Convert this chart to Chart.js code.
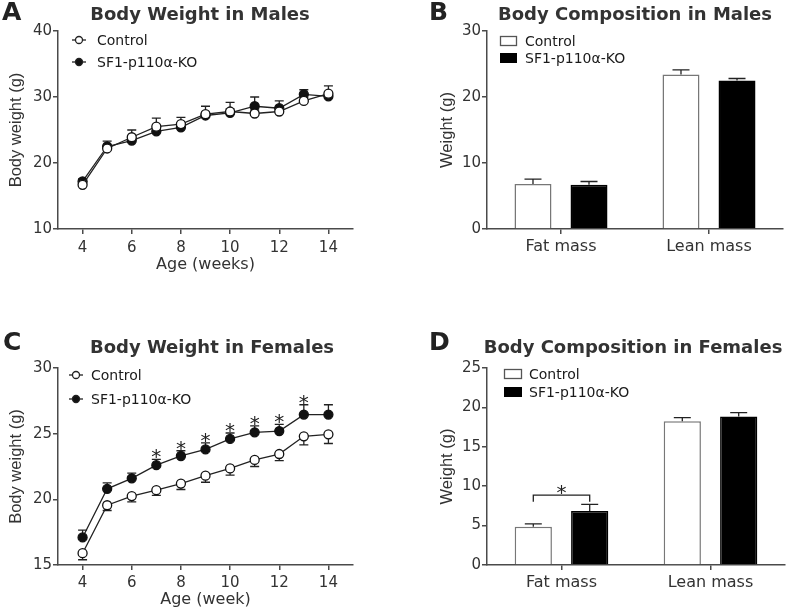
<!DOCTYPE html>
<html>
<head>
<meta charset="utf-8">
<script src="https://cdn.jsdelivr.net/npm/chart.js@4.4.1/dist/chart.umd.min.js"></script>
<style>
  body { margin: 0; background: #fff; }
  #wrap { position: relative; width: 787px; height: 612px; overflow: hidden; }
  canvas { position: absolute; }
</style>
</head>
<body>
<div id="wrap">
  <canvas id="panelA" width="390" height="300" style="left:0;top:0"></canvas>
  <canvas id="panelB" width="397" height="300" style="left:390px;top:0"></canvas>
  <canvas id="panelC" width="390" height="302" style="left:0;top:310px"></canvas>
  <canvas id="panelD" width="397" height="302" style="left:390px;top:310px"></canvas>
</div>
<script>
// --- data ---
const weeks = [4, 5, 6, 7, 8, 9, 10, 11, 12, 13, 14];
const weekTicks = [4, 6, 8, 10, 12, 14];

const maleCtrl    = [16.7, 22.2, 23.9, 25.5, 25.9, 27.4, 27.8, 27.5, 27.8, 29.4, 30.5];
const maleCtrlErr = [0.4, 0.4, 1.1, 1.3, 1.0, 1.2, 1.4, 0.5, 0.5, 0.5, 1.2];
const maleKO      = [17.2, 22.5, 23.4, 24.8, 25.4, 27.2, 27.6, 28.6, 28.3, 30.4, 30.1];
const maleKOErr   = [0.4, 0.8, 0.5, 0.5, 0.5, 0.5, 0.6, 1.4, 1.1, 0.7, 0.5];
const maleWeightTicks = [10, 20, 30, 40];

const femaleCtrl    = [15.9, 19.55, 20.25, 20.7, 21.2, 21.8, 22.35, 23.0, 23.45, 24.8, 24.95];
const femaleCtrlErr = [0.5, 0.4, 0.45, 0.4, 0.45, 0.5, 0.5, 0.5, 0.5, 0.65, 0.7];
const femaleKO      = [17.1, 20.8, 21.6, 22.6, 23.3, 23.8, 24.6, 25.1, 25.2, 26.45, 26.45];
const femaleKOErr   = [0.55, 0.45, 0.4, 0.45, 0.4, 0.5, 0.45, 0.5, 0.5, 0.75, 0.75];
const femaleStars   = ['', '', '', '*', '*', '*', '*', '*', '*', '*', ''];
const femaleWeightTicks = [15, 20, 25, 30];

const compCategories = ['Fat mass', 'Lean mass'];
const maleCompCtrl    = [6.8, 23.4];
const maleCompCtrlErr = [0.75, 0.7];
const maleCompKO      = [6.7, 22.5];
const maleCompKOErr   = [0.5, 0.3];
const maleCompTicks   = [0, 10, 20, 30];

const femaleCompCtrl    = [4.86, 18.24];
const femaleCompCtrlErr = [0.35, 0.46];
const femaleCompKO      = [6.84, 18.83];
const femaleCompKOErr   = [0.85, 0.5];
const femaleCompTicks   = [0, 5, 10, 15, 20, 25];
const femaleFatBracket  = { category: 0, top: 8.88, foot: 8.03, mark: '*' };

const seriesNames = ['Control', 'SF1-p110\u03b1-KO'];

// --- styling ---
const family = "'DejaVu Sans', sans-serif";
const vFamily = "'Liberation Sans', Arial, sans-serif";
const axisColor = '#4a4a4a';
const textColor = '#333';

function fixedTicks(values) {
  return scale => { scale.ticks = values.map(v => ({ value: v })); };
}

function axisBase() {
  return {
    border: { display: true, color: axisColor, width: 1.5 },
    grid: { drawOnChartArea: false, tickLength: 5, color: axisColor, lineWidth: 1.5 }
  };
}

function yAxis(min, max, tickValues, title, width, titlePad) {
  return {
    ...axisBase(),
    min: min, max: max,
    afterBuildTicks: fixedTicks(tickValues),
    afterFit: s => { s.width = width; },
    ticks: { color: textColor, font: { family: family, size: 15 }, padding: 1 },
    title: { display: true, text: title, color: textColor,
             font: { family: vFamily, size: 16.5 }, padding: { top: titlePad, bottom: 0 } }
  };
}

function weekAxis(title, height, tickPad, titlePad) {
  return {
    ...axisBase(),
    type: 'linear', min: 3, max: 15,
    afterBuildTicks: fixedTicks(weekTicks),
    afterFit: s => { s.height = height; },
    ticks: { color: textColor, font: { family: family, size: 15 }, padding: tickPad, maxRotation: 0 },
    title: { display: true, text: title, color: textColor,
             font: { family: family, size: 16 }, padding: { top: 0, bottom: titlePad } }
  };
}

function categoryAxis(height, tickPad) {
  const base = axisBase();
  base.grid.offset = false;
  return {
    ...base,
    type: 'category', offset: true,
    afterFit: s => { s.height = height; },
    ticks: { color: textColor, font: { family: family, size: 16 }, padding: tickPad, maxRotation: 0 }
  };
}

function lineSet(label, values, errs, dir, filled, stars) {
  return {
    label: label,
    data: weeks.map((w, i) => ({ x: w, y: values[i] })),
    errors: errs, errDir: dir, stars: stars, capWidth: 9,
    borderColor: '#222', borderWidth: 1.3,
    pointRadius: 4.5, pointBorderWidth: 1.3, pointBorderColor: '#111',
    pointBackgroundColor: filled ? '#111' : '#fff',
    tension: 0, fill: false
  };
}

function barSet(label, values, errs, filled) {
  return {
    label: label, data: values,
    errors: errs, errDir: 'up', capWidth: 17,
    backgroundColor: filled ? '#000' : '#fff',
    borderColor: filled ? '#000' : '#777', borderWidth: 1.5,
    categoryPercentage: 0.757, barPercentage: 0.66
  };
}

// error bars, significance stars and bracket drawn through the chart scales
function drawErrors(chart) {
  const ctx = chart.ctx, y = chart.scales.y;
  chart.data.datasets.forEach((ds, i) => {
    if (!ds.errors) return;
    const meta = chart.getDatasetMeta(i);
    ctx.save();
    ctx.strokeStyle = '#222';
    ctx.lineWidth = 1.3;
    meta.data.forEach((el, j) => {
      const v = typeof ds.data[j] === 'object' ? ds.data[j].y : ds.data[j];
      const end = ds.errDir === 'down' ? v - ds.errors[j] : v + ds.errors[j];
      const y0 = y.getPixelForValue(v), y1 = y.getPixelForValue(end);
      const half = ds.capWidth / 2;
      ctx.beginPath();
      ctx.moveTo(el.x, y0); ctx.lineTo(el.x, y1);
      ctx.moveTo(el.x - half, y1); ctx.lineTo(el.x + half, y1);
      ctx.stroke();
    });
    ctx.restore();
  });
}

function drawMarks(chart, opts) {
  const ctx = chart.ctx, y = chart.scales.y;
  ctx.save();
  ctx.fillStyle = '#222';
  ctx.font = '20px ' + family;
  ctx.textAlign = 'center';
  ctx.textBaseline = 'alphabetic';
  chart.data.datasets.forEach((ds, i) => {
    if (!ds.stars) return;
    const meta = chart.getDatasetMeta(i);
    meta.data.forEach((el, j) => {
      if (!ds.stars[j]) return;
      const top = y.getPixelForValue(ds.data[j].y + ds.errors[j]);
      ctx.fillText(ds.stars[j], el.x, top + 4);
    });
  });
  const br = opts.bracket;
  if (br) {
    const x0 = chart.getDatasetMeta(0).data[br.category].x;
    const x1 = chart.getDatasetMeta(1).data[br.category].x;
    const yt = y.getPixelForValue(br.top), yf = y.getPixelForValue(br.foot);
    ctx.strokeStyle = '#222';
    ctx.lineWidth = 1.3;
    ctx.beginPath();
    ctx.moveTo(x0, yf); ctx.lineTo(x0, yt); ctx.lineTo(x1, yt); ctx.lineTo(x1, yf);
    ctx.stroke();
    ctx.fillText(br.mark, (x0 + x1) / 2, yt + 4);
  }
  ctx.restore();
}

const errorBars = {
  id: 'errorBars',
  beforeDatasetsDraw(chart) {
    if (chart.config.type === 'line') drawErrors(chart);
  },
  afterDatasetsDraw(chart, args, opts) {
    if (chart.config.type === 'bar') drawErrors(chart);
    drawMarks(chart, opts);
  }
};

// panel letter, bold title and in-plot legend
const panelText = {
  id: 'panelText',
  afterDraw(chart, args, o) {
    const ctx = chart.ctx;
    ctx.save();
    ctx.textBaseline = 'middle';
    ctx.fillStyle = '#222';
    ctx.font = 'bold 25px ' + family;
    ctx.textAlign = 'left';
    ctx.fillText(o.letter, o.letterX, o.letterY);
    ctx.fillStyle = '#333';
    ctx.font = 'bold 18px ' + family;
    ctx.textAlign = 'center';
    ctx.fillText(o.title, o.titleX, o.titleY);

    ctx.textAlign = 'left';
    ctx.font = '14px ' + family;
    chart.data.datasets.forEach((ds, i) => {
      const ly = o.legendY[i];
      const filled = i === 1;
      ctx.strokeStyle = '#222';
      ctx.lineWidth = 1.3;
      if (o.legendType === 'line') {
        ctx.beginPath();
        ctx.moveTo(o.legendX - 7, ly); ctx.lineTo(o.legendX + 7, ly);
        ctx.stroke();
        ctx.beginPath();
        ctx.arc(o.legendX, ly, 3.5, 0, Math.PI * 2);
        ctx.fillStyle = filled ? '#111' : '#fff';
        ctx.fill();
        ctx.stroke();
      } else {
        ctx.fillStyle = filled ? '#000' : '#fff';
        ctx.fillRect(o.legendX, ly - 5, o.boxW, 10);
        if (!filled) {
          ctx.strokeStyle = '#555';
          ctx.strokeRect(o.legendX + 0.5, ly - 4.5, o.boxW - 1, 9);
        }
      }
      ctx.fillStyle = '#1a1a1a';
      ctx.fillText(ds.label, o.textX, ly + 1);
    });
    ctx.restore();
  }
};

function baseOptions(padding, scales, text, bracket) {
  return {
    responsive: false,
    animation: false,
    layout: { padding: padding },
    scales: scales,
    plugins: {
      legend: { display: false },
      tooltip: { enabled: false },
      panelText: text,
      errorBars: { bracket: bracket || null }
    }
  };
}

// A: body weight, males
new Chart(document.getElementById('panelA'), {
  type: 'line',
  data: { datasets: [
    lineSet(seriesNames[0], maleCtrl, maleCtrlErr, 'up', false, null),
    lineSet(seriesNames[1], maleKO, maleKOErr, 'up', true, null)
  ] },
  options: baseOptions(
    { left: 0, right: 37, top: 31, bottom: 0 },
    { x: weekAxis('Age (weeks)', 71, 5, 26),
      y: yAxis(10, 40, maleWeightTicks, 'Body weight (g)', 58, 7) },
    { letter: 'A', letterX: 2, letterY: 13, title: 'Body Weight in Males', titleX: 200, titleY: 15,
      legendType: 'line', legendX: 79, legendY: [40, 62], textX: 97 }),
  plugins: [errorBars, panelText]
});

// B: body composition, males
new Chart(document.getElementById('panelB'), {
  type: 'bar',
  data: { labels: compCategories, datasets: [
    barSet(seriesNames[0], maleCompCtrl, maleCompCtrlErr, false),
    barSet(seriesNames[1], maleCompKO, maleCompKOErr, true)
  ] },
  options: baseOptions(
    { left: 0, right: 4, top: 31, bottom: 0 },
    { x: categoryAxis(71, 3),
      y: yAxis(0, 30, maleCompTicks, 'Weight (g)', 97, 48) },
    { letter: 'B', letterX: 39, letterY: 13, title: 'Body Composition in Males', titleX: 245, titleY: 15,
      legendType: 'bar', legendX: 110, boxW: 17, legendY: [41, 58], textX: 135 }),
  plugins: [errorBars, panelText]
});

// C: body weight, females
new Chart(document.getElementById('panelC'), {
  type: 'line',
  data: { datasets: [
    lineSet(seriesNames[0], femaleCtrl, femaleCtrlErr, 'down', false, null),
    lineSet(seriesNames[1], femaleKO, femaleKOErr, 'up', true, femaleStars)
  ] },
  options: baseOptions(
    { left: 0, right: 37, top: 58, bottom: 0 },
    { x: weekAxis('Age (week)', 47, 4, 3),
      y: yAxis(15, 30, femaleWeightTicks, 'Body weight (g)', 58, 7) },
    { letter: 'C', letterX: 3, letterY: 33, title: 'Body Weight in Females', titleX: 212, titleY: 38,
      legendType: 'line', legendX: 76, legendY: [65, 89], textX: 91 }),
  plugins: [errorBars, panelText]
});

// D: body composition, females
new Chart(document.getElementById('panelD'), {
  type: 'bar',
  data: { labels: compCategories, datasets: [
    barSet(seriesNames[0], femaleCompCtrl, femaleCompCtrlErr, false),
    barSet(seriesNames[1], femaleCompKO, femaleCompKOErr, true)
  ] },
  options: baseOptions(
    { left: 0, right: 2, top: 58, bottom: 0 },
    { x: categoryAxis(47, 3),
      y: yAxis(0, 25, femaleCompTicks, 'Weight (g)', 97, 48) },
    { letter: 'D', letterX: 39, letterY: 33, title: 'Body Composition in Females', titleX: 243, titleY: 38,
      legendType: 'bar', legendX: 114, boxW: 18, legendY: [64, 82], textX: 139 },
    femaleFatBracket),
  plugins: [errorBars, panelText]
});
</script>
</body>
</html>
